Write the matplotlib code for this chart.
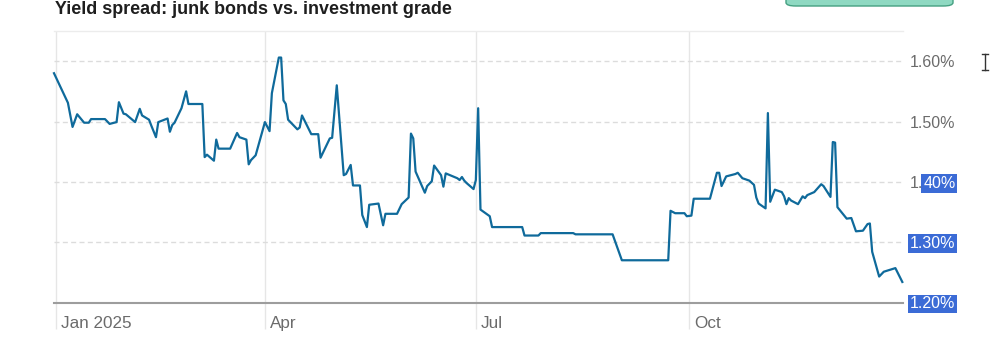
import matplotlib
matplotlib.use('Agg')
import matplotlib.pyplot as plt
from matplotlib.patches import FancyBboxPatch
from matplotlib.lines import Line2D
import pandas as pd

plt.rcParams['font.family'] = ['Liberation Sans', 'DejaVu Sans']

# junk minus investment-grade spread, percentage points
dates = [
    '2024-12-31', '2025-01-06', '2025-01-08', '2025-01-10', '2025-01-13',
    '2025-01-15', '2025-01-16', '2025-01-22', '2025-01-24', '2025-01-27',
    '2025-01-28', '2025-01-30', '2025-01-31', '2025-02-04', '2025-02-06',
    '2025-02-07', '2025-02-10', '2025-02-11', '2025-02-13', '2025-02-14',
    '2025-02-18', '2025-02-19', '2025-02-20', '2025-02-21', '2025-02-24',
    '2025-02-26', '2025-02-27', '2025-03-05', '2025-03-06', '2025-03-07',
    '2025-03-10', '2025-03-11', '2025-03-12', '2025-03-17', '2025-03-20',
    '2025-03-21', '2025-03-24', '2025-03-25', '2025-03-26', '2025-03-28',
    '2025-04-01', '2025-04-03', '2025-04-04', '2025-04-07', '2025-04-08',
    '2025-04-09', '2025-04-10', '2025-04-11', '2025-04-15', '2025-04-16',
    '2025-04-17', '2025-04-21', '2025-04-24', '2025-04-25', '2025-04-29',
    '2025-04-30', '2025-05-02', '2025-05-05', '2025-05-06', '2025-05-08',
    '2025-05-09', '2025-05-12', '2025-05-13', '2025-05-15', '2025-05-16',
    '2025-05-20', '2025-05-22', '2025-05-23', '2025-05-28', '2025-05-30',
    '2025-06-02', '2025-06-03', '2025-06-04', '2025-06-05', '2025-06-09',
    '2025-06-10', '2025-06-12', '2025-06-13', '2025-06-16', '2025-06-17',
    '2025-06-18', '2025-06-23', '2025-06-24', '2025-06-25', '2025-06-26',
    '2025-06-27', '2025-06-30', '2025-07-01', '2025-07-02', '2025-07-03',
    '2025-07-07', '2025-07-08', '2025-07-21', '2025-07-22', '2025-07-28',
    '2025-07-29', '2025-08-12', '2025-08-13', '2025-08-29', '2025-09-02',
    '2025-09-22', '2025-09-23', '2025-09-25', '2025-09-29', '2025-09-30',
    '2025-10-02', '2025-10-03', '2025-10-10', '2025-10-13', '2025-10-14',
    '2025-10-15', '2025-10-17', '2025-10-21', '2025-10-22', '2025-10-24',
    '2025-10-27', '2025-10-29', '2025-10-30', '2025-10-31', '2025-11-03',
    '2025-11-04', '2025-11-05', '2025-11-07', '2025-11-10', '2025-11-11',
    '2025-11-12', '2025-11-13', '2025-11-14', '2025-11-17', '2025-11-19',
    '2025-11-20', '2025-11-21', '2025-11-24', '2025-11-27', '2025-11-28',
    '2025-12-01', '2025-12-02', '2025-12-03', '2025-12-04', '2025-12-08',
    '2025-12-10', '2025-12-12', '2025-12-15', '2025-12-17', '2025-12-18',
    '2025-12-19', '2025-12-22', '2025-12-24', '2025-12-29', '2026-01-01',
]
spread = [
    1.580, 1.531, 1.491, 1.512, 1.498, 1.498, 1.504, 1.504, 1.496, 1.499,
    1.532, 1.513, 1.512, 1.499, 1.521, 1.510, 1.503, 1.493, 1.474, 1.499,
    1.505, 1.483, 1.494, 1.498, 1.522, 1.550, 1.529, 1.529, 1.441, 1.445,
    1.435, 1.470, 1.455, 1.455, 1.481, 1.474, 1.470, 1.429, 1.436, 1.444,
    1.499, 1.484, 1.547, 1.606, 1.606, 1.535, 1.529, 1.503, 1.487, 1.490,
    1.510, 1.479, 1.479, 1.440, 1.472, 1.473, 1.560, 1.411, 1.413, 1.428,
    1.394, 1.394, 1.345, 1.325, 1.362, 1.364, 1.328, 1.347, 1.347, 1.363,
    1.374, 1.480, 1.472, 1.417, 1.382, 1.393, 1.401, 1.427, 1.411, 1.392,
    1.414, 1.406, 1.403, 1.408, 1.402, 1.398, 1.388, 1.403, 1.522, 1.354,
    1.343, 1.325, 1.325, 1.311, 1.311, 1.315, 1.315, 1.313, 1.313, 1.270,
    1.270, 1.352, 1.348, 1.348, 1.343, 1.344, 1.372, 1.372, 1.415, 1.415,
    1.393, 1.409, 1.413, 1.415, 1.406, 1.402, 1.395, 1.374, 1.364, 1.356,
    1.514, 1.367, 1.387, 1.383, 1.376, 1.363, 1.373, 1.369, 1.363, 1.376,
    1.373, 1.378, 1.383, 1.396, 1.393, 1.375, 1.466, 1.465, 1.358, 1.339,
    1.340, 1.318, 1.319, 1.330, 1.331, 1.284, 1.243, 1.251, 1.257, 1.234,
]

month_ticks = ['2025-01-01', '2025-04-01', '2025-07-01', '2025-10-01']
month_labels = ['Jan 2025', 'Apr', 'Jul', 'Oct']
y_ticks = [1.20, 1.30, 1.40, 1.50, 1.60]
y_labels = ['1.20%', '1.30%', '1.40%', '1.50%', '1.60%']

title = 'Yield spread: junk bonds vs. investment grade'

W, H = 994, 342
fig = plt.figure(figsize=(W / 100, H / 100), dpi=100)
ax = fig.add_axes([54 / W, (H - 302.5) / H, 849 / W, 271.5 / H])

x = pd.to_datetime(dates)
ax.plot(x, spread, color='#0f6a9b', linewidth=1.6, solid_joinstyle='round',
        clip_on=False, zorder=3)

ax.set_xlim(pd.Timestamp('2024-12-31'), pd.Timestamp('2026-01-01 07:00'))
ax.set_ylim(1.20, 1.65)

# month gridlines, ticks run down into the label row
ax.set_xticks(pd.to_datetime(month_ticks))
ax.set_xticklabels([])
ax.tick_params(axis='x', length=19, width=1, color='#e6e6e6', direction='out')
ax.grid(axis='x', color='#e6e6e6', linewidth=1)
for d, lbl in zip(month_ticks, month_labels):
    ax.annotate(lbl, xy=(pd.Timestamp(d), 0), xycoords=('data', 'axes fraction'),
                xytext=(3.6, -15), textcoords='offset points',
                ha='left', va='center', fontsize=12.3, color='#6b6b6b')

# right-hand labels; part of the 1.40% label is drawn separately below
ax.set_yticks(y_ticks)
ax.yaxis.tick_right()
ax.set_yticklabels([('1.' if s == '1.40%' else s) for s in y_labels])
ax.tick_params(axis='y', length=0, pad=5, labelsize=11.5, labelcolor='#6b6b6b')
ax.grid(axis='y', color='#dcdcdc', linewidth=1, linestyle=(0, (3.6, 2.4)))

for side in ('left', 'right'):
    ax.spines[side].set_visible(False)
ax.spines['top'].set_color('#ececec')
ax.spines['top'].set_linewidth(1)
ax.spines['bottom'].set_color('#9d9d9d')
ax.spines['bottom'].set_linewidth(1.5)
ax.set_axisbelow(True)

# selected text highlight
sel = '#3b6bd6'
fig.canvas.draw()
for lab in ax.get_yticklabels():
    if lab.get_text() in ('1.20%', '1.30%'):
        lab.set_color('white')
        lab.set_bbox(dict(boxstyle='square,pad=0.12', facecolor=sel,
                          edgecolor='none'))
    elif lab.get_text() == '1.':
        bb = lab.get_window_extent()
        fig.text(bb.x1 / W, (bb.y0 + bb.y1) / 2 / H, '40%', ha='left',
                 va='center', fontsize=11.5, color='white',
                 bbox=dict(boxstyle='square,pad=0.12', facecolor=sel,
                           edgecolor='none'))

fig.text(55 / W, 1 - 9 / H, title, fontsize=12.9, fontweight='bold',
         color='#1e1e1e', ha='left', va='center')

# page furniture around the chart
fig.patches.append(FancyBboxPatch((786 / W, (H - 6) / H), 167 / W, 20 / H,
                                  boxstyle='round,pad=0,rounding_size=0.01',
                                  transform=fig.transFigure, facecolor='#8fd9c2',
                                  edgecolor='#45a081', linewidth=1))
for xs, ys in (([985, 985], [54, 70]), ([982, 988], [54, 54]), ([982, 988], [70, 70])):
    fig.add_artist(Line2D([v / W for v in xs], [1 - v / H for v in ys],
                          transform=fig.transFigure, color='#333333', linewidth=1))

fig.savefig('out.png', dpi=100)
